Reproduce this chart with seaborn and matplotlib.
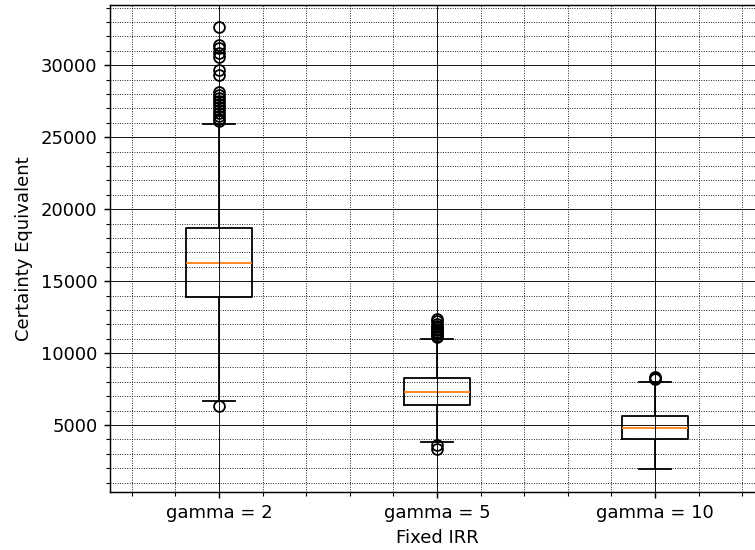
import numpy as np
import pandas as pd
import seaborn as sns
import matplotlib.pyplot as plt

# Box summary (one entry per gamma)
groups = ['gamma = 2', 'gamma = 5', 'gamma = 10']
q1 = [13880, 6420, 4040]
median = [16270, 7290, 4790]
q3 = [18720, 8290, 5640]
whisker_low = [6670, 3800, 1920]
whisker_high = [25950, 10980, 8020]
outliers_low = [
    [6330],
    [3580, 3350],
    [],
]
outliers_high = [
    [32650, 31390, 31180, 30850, 30580, 29700, 29310, 28150, 27900, 27700,
     27500, 27300, 27100, 26900, 26700, 26500, 26300, 26100],
    [12360, 12200, 12050, 11900, 11800, 11700, 11600, 11500, 11400, 11300,
     11200, 11150],
    [8200, 8280, 8350],
]


def sample_from_summary(i):
    # lay the read values out so that the quartiles land on q1 / median / q3
    low = sorted(outliers_low[i]) + [whisker_low[i]]
    high = [whisker_high[i]] + sorted(outliers_high[i])
    m = max(len(low), len(high)) + 1
    n = 4 * m + 1
    vals = low + [q1[i]] * (2 * m - len(low)) + [median[i]]
    vals += [q3[i]] * (n - len(vals) - len(high)) + high
    return vals


rows = []
for i, g in enumerate(groups):
    for v in sample_from_summary(i):
        rows.append({'Fixed IRR': g, 'Certainty Equivalent': v})
df = pd.DataFrame(rows)

fig = plt.figure(figsize=(755 / 130, 550 / 130), dpi=130)
ax = fig.add_axes([110 / 755, 58.5 / 550, 654 / 755, 486.5 / 550])

sns.boxplot(data=df, x='Fixed IRR', y='Certainty Equivalent', order=groups,
            width=0.3, fill=False, color='black', linewidth=1.0, whis=1.5,
            medianprops={'color': '#ff7f0e'},
            flierprops={'marker': 'o', 'markerfacecolor': 'none',
                        'markeredgecolor': 'black'},
            fliersize=6, ax=ax)

ax.set_xlim(-0.5, 2.5)
ax.set_xlabel('Fixed IRR')
ax.set_ylabel('Certainty Equivalent')

ax.minorticks_on()
ax.grid(which='major', linestyle='-', linewidth=0.5, color='black')
ax.grid(which='minor', linestyle=':', linewidth=0.5, color='black')
ax.set_axisbelow(False)

fig.savefig('out.png', dpi=130)
